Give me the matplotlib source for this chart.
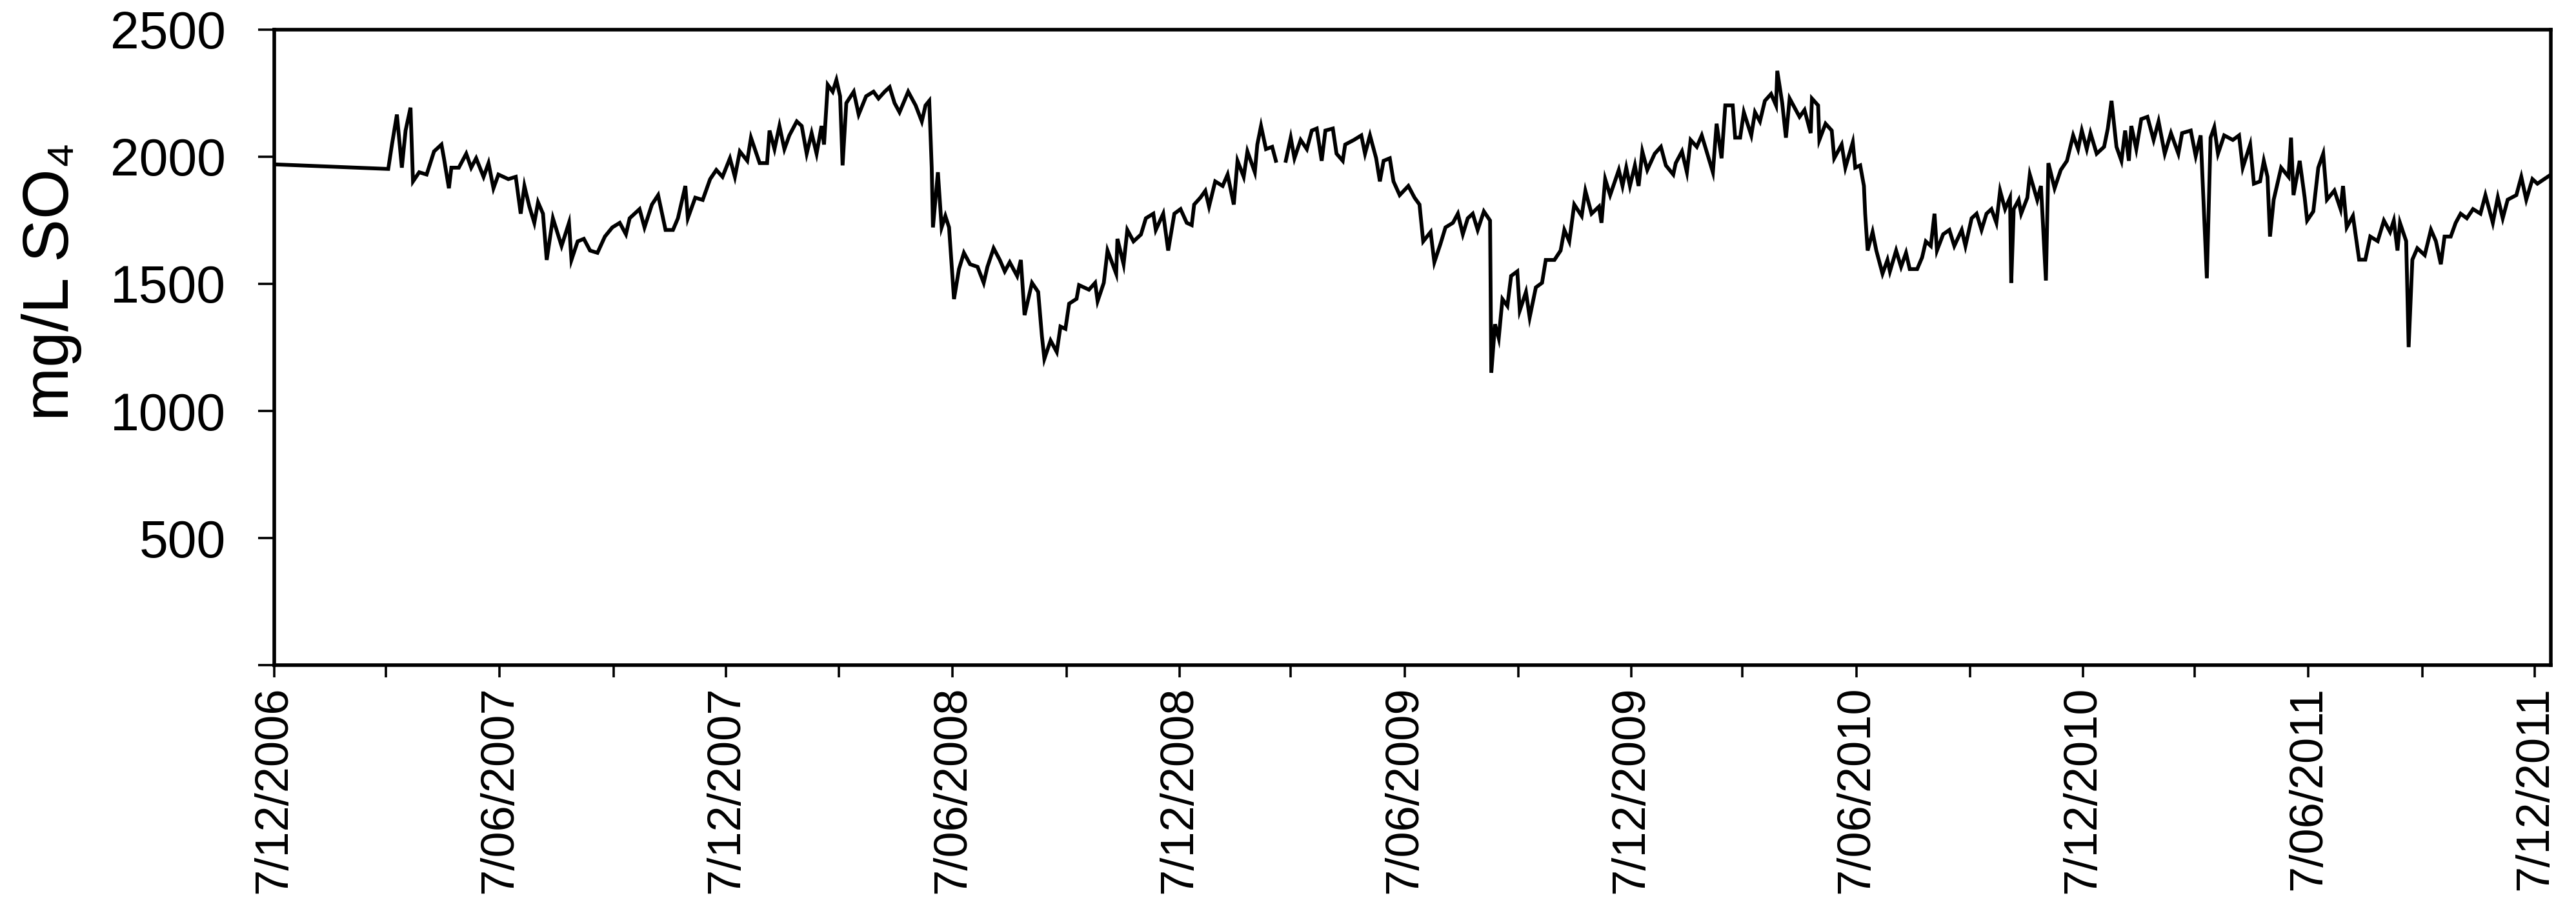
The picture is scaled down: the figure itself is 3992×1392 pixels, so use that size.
import datetime as dt
import matplotlib
matplotlib.use("Agg")
import matplotlib.pyplot as plt
import matplotlib.dates as mdates
from matplotlib.ticker import FuncFormatter, MultipleLocator

plt.rcParams['font.family'] = ['Liberation Sans', 'DejaVu Sans']

# days since 7/12/2006 and sulphate concentration (mg/L)
start = dt.date(2006, 12, 7)
days = [
    0, 92, 95, 99, 103, 106, 110, 112, 117, 123, 129, 135, 137, 141, 143, 149,
    155, 159, 163, 169, 173, 177, 181, 189, 195, 199, 202, 206, 210, 213, 217,
    220, 225, 232, 238, 240, 245, 250, 255, 261, 267, 273, 279, 284, 287, 295,
    299, 305, 310, 316, 322, 326, 332, 334, 340, 346, 352, 357, 362, 368, 372,
    376, 382, 385, 392, 398, 400, 404, 408, 412, 416, 422, 426, 430, 434, 438,
    442, 444, 447, 451, 454, 457, 459, 462, 468, 472, 478, 484, 488, 493, 497,
    501, 505, 512, 518, 523, 526, 529, 531, 532, 536, 539, 542, 545, 549, 553,
    557, 562, 568, 573, 576, 581, 586, 590, 594, 600, 603, 606, 612, 617, 620,
    622, 627, 632, 635, 639, 642, 648, 650, 658, 663, 665, 670, 673, 680, 681,
    686, 689, 694, 700, 704, 710, 712, 718, 722, 727, 732, 737, 741, 743, 748,
    752, 755, 760, 766, 770, 775, 778, 783, 786, 792, 794, 797, 801, 806, 809,
    813, 817, 821, 824, 829, 834, 838, 842, 846, 849, 855, 858, 863, 865, 872,
    878, 881, 885, 890, 893, 896, 901, 904, 909, 916, 921, 925, 928, 934, 937,
    942, 946, 952, 956, 960, 964, 968, 972, 977, 982, 983, 986, 989, 992, 996,
    999, 1004, 1006, 1011, 1014, 1019, 1024, 1027, 1034, 1039, 1042, 1046,
    1050, 1056, 1059, 1064, 1070, 1072, 1075, 1079, 1086, 1089, 1092, 1095,
    1099, 1102, 1105, 1109, 1115, 1120, 1124, 1130, 1132, 1137, 1141, 1144,
    1149, 1153, 1158, 1162, 1165, 1169, 1172, 1178, 1180, 1184, 1187, 1193,
    1196, 1200, 1204, 1209, 1213, 1214, 1218, 1221, 1224, 1229, 1232, 1236,
    1241, 1242, 1247, 1248, 1253, 1258, 1260, 1266, 1269, 1275, 1277, 1281,
    1284, 1285, 1287, 1291, 1294, 1299, 1303, 1305, 1310, 1314, 1318, 1321,
    1327, 1331, 1334, 1338, 1341, 1343, 1348, 1353, 1357, 1363, 1366, 1371,
    1375, 1379, 1383, 1387, 1391, 1394, 1398, 1402, 1403, 1405, 1409, 1411,
    1416, 1418, 1424, 1427, 1431, 1433, 1438, 1443, 1448, 1453, 1457, 1460,
    1464, 1467, 1472, 1478, 1481, 1484, 1488, 1492, 1495, 1498, 1500, 1504,
    1508, 1513, 1518, 1522, 1527, 1532, 1538, 1541, 1548, 1552, 1556, 1561,
    1564, 1567, 1570, 1575, 1582, 1587, 1590, 1596, 1599, 1604, 1607, 1610,
    1612, 1615, 1621, 1627, 1629, 1631, 1636, 1640, 1642, 1647, 1651, 1655,
    1658, 1664, 1669, 1671, 1674, 1679, 1684, 1689, 1693, 1699, 1704, 1709,
    1712, 1715, 1717, 1722, 1724, 1727, 1731, 1737, 1742, 1746, 1750, 1753,
    1758, 1762, 1766, 1771, 1776, 1782, 1786, 1792, 1796, 1800, 1804, 1811,
    1815, 1819, 1824, 1828, 1839,
]
so4 = [
    1970, 1952, 2048, 2166, 1957, 2103, 2193, 1903, 1939, 1930, 2021, 2048, 1994, 1876, 1957, 1957,
    2012, 1957, 1994, 1921, 1975, 1876, 1930, 1912, 1921, 1776, 1885, 1804, 1740, 1821, 1776,
    1594, 1758, 1649, 1740, 1594, 1667, 1677, 1631, 1622, 1686, 1722, 1740, 1695, 1758, 1794,
    1722, 1812, 1849, 1712, 1712, 1758, 1885, 1758, 1839, 1830, 1912, 1948, 1921, 1994, 1921,
    2021, 1984, 2075, 1975, 1975, 2103, 2030, 2121, 2030, 2084, 2139, 2121, 2012, 2093, 2012,
    2121, 2048, 2283, 2256, 2302, 2238, 1966, 2211, 2256, 2166, 2238, 2256, 2229, 2256, 2274,
    2211, 2175, 2256, 2202, 2139, 2202, 2220, 1957, 1722, 1939, 1722, 1767, 1722, 1440, 1558,
    1622, 1577, 1567, 1504, 1567, 1640, 1594, 1549, 1585, 1531, 1594, 1377, 1504, 1468, 1295,
    1205, 1277, 1232, 1332, 1323, 1422, 1441, 1495, 1477, 1504, 1432, 1504, 1631, 1540, 1677,
    1577, 1712, 1667, 1694, 1758, 1776, 1712, 1776, 1631, 1776, 1794, 1740, 1731, 1812, 1839,
    1866, 1804, 1903, 1885, 1930, 1812, 1984, 1921, 2021, 1939, 2048, 2121, 2030, 2039, 1984,
    float('nan'), 1984, 2075, 1994, 2066, 2030, 2103, 2111, 1984, 2103, 2111, 2012, 1984, 2048, 2066,
    2084, 2012, 2084, 1994, 1903, 1984, 1994, 1903, 1849, 1885, 1839, 1812, 1667, 1704, 1585,
    1658, 1722, 1740, 1776, 1695, 1758, 1776, 1712, 1785, 1749, 1150, 1341, 1286, 1440, 1413,
    1531, 1549, 1395, 1468, 1368, 1486, 1504, 1594, 1594, 1631, 1712, 1667,
    1812, 1767, 1866, 1776, 1804, 1740, 1912, 1849, 1948, 1885, 1957, 1885,
    1966, 1885, 2021, 1948, 2012, 2039, 1966, 1930, 1975, 2021, 1939, 2066,
    2039, 2084, 2003, 1939, 2130, 1994, 2202, 2202, 2075, 2075, 2175, 2084,
    2175, 2139, 2220, 2247, 2202, 2338, 2211, 2075, 2229, 2184, 2157, 2184,
    2093, 2229, 2202, 2066, 2130, 2103, 1994, 2048, 1957, 2057, 1957, 1966,
    1885, 1776, 1631, 1704, 1631, 1540, 1594, 1549, 1631, 1567, 1622, 1558,
    1558, 1604, 1667, 1649, 1776, 1631, 1695, 1712, 1649, 1712, 1649, 1758,
    1776, 1712, 1776, 1794, 1740, 1866, 1794, 1839, 1504, 1794, 1830, 1776,
    1839, 1930, 1830, 1885, 1513, 1975, 1876, 1948, 1984, 2084, 2030, 2103,
    2030, 2093, 2012, 2039, 2111, 2220, 2039, 1984, 2103, 1984, 2121, 2030,
    2148, 2157, 2066, 2139, 2012, 2093, 2012, 2093, 2103, 2003, 2084, 1522,
    2075, 2116, 2012, 2084, 2066, 2084, 1957, 2048, 1894, 1903, 1984, 1921,
    1686, 1831, 1957, 1921, 2075, 1849, 1984, 1840, 1749, 1785, 1957, 2012,
    1831, 1867, 1794, 1885, 1722, 1767, 1595, 1595, 1686, 1668, 1749, 1704,
    1749, 1631, 1740, 1668, 1251, 1595, 1640, 1613, 1713, 1668, 1577, 1686,
    1686, 1740, 1776, 1758, 1794, 1776, 1849, 1740, 1840, 1758, 1831, 1849,
    1921, 1831, 1912, 1894, 1930,
]

dates = [start + dt.timedelta(days=d) for d in days]

fig = plt.figure(figsize=(39.92, 13.92), dpi=100)
ax = fig.add_axes([0.1065, 0.2593, 0.8838, 0.7077])

ax.plot(dates, so4, color="black", linewidth=4.2, solid_joinstyle="miter")

ax.set_ylim(0, 2500)
ax.set_xlim(start, dt.date(2011, 12, 20))

ax.yaxis.set_major_locator(MultipleLocator(500))
ax.yaxis.set_major_formatter(FuncFormatter(lambda v, p: "" if v == 0 else f"{int(v)}"))

ax.xaxis.set_major_locator(mdates.MonthLocator(bymonth=(6, 12), bymonthday=7))
ax.xaxis.set_minor_locator(mdates.MonthLocator(bymonth=(3, 9), bymonthday=7))
ax.xaxis.set_major_formatter(
    FuncFormatter(lambda v, p: (lambda d: f"{d.day}/{d.month:02d}/{d.year}")(mdates.num2date(v)))
)

for s in ax.spines.values():
    s.set_linewidth(4)

ax.tick_params(axis="y", which="major", direction="out", length=18, width=2.6,
               labelsize=58, pad=36)
ax.tick_params(axis="x", which="both", direction="out", length=13.5, width=2.6,
               labelsize=52, pad=10)
for lbl in ax.get_xticklabels():
    lbl.set_rotation(90)

ax.set_ylabel("mg/L SO\u2084", fontsize=72)
ax.yaxis.set_label_coords(-0.0845, 0.604)

fig.savefig("out.png", dpi=100, facecolor="white")
